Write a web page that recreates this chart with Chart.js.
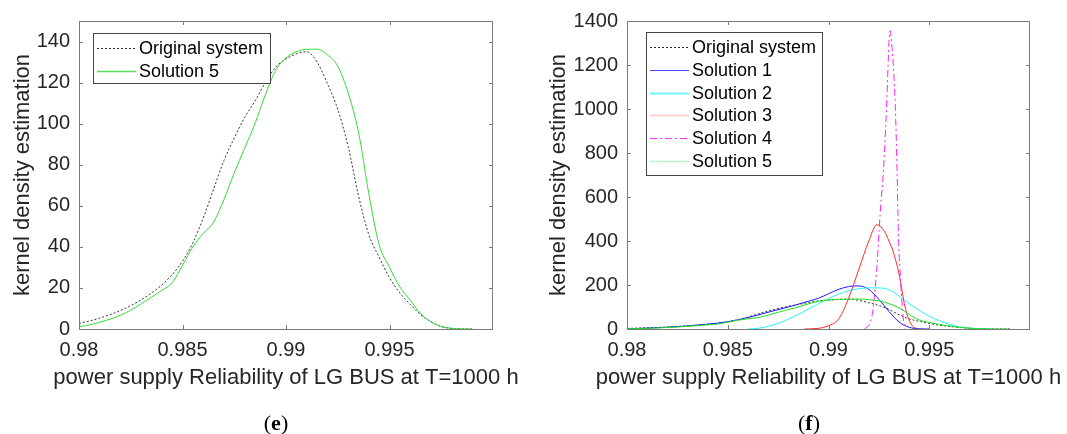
<!DOCTYPE html>
<html>
<head>
  <title>Kernel density of LG BUS reliability</title>
  <script src="https://cdn.jsdelivr.net/npm/chart.js"></script>
  <style>
    body { margin: 0; background: #fff; }
    #page { position: relative; width: 1067px; height: 434px; overflow: hidden; }
    .panel { position: absolute; top: 0; height: 434px; }
    .cap { position: absolute; top: 410px; line-height: 26px; font-family: "Liberation Serif", "DejaVu Serif", serif; font-size: 22px; color: #000; transform: translateX(-50%); }
  </style>
</head>
<body>
<div id="page">
  <div class="panel" style="left:0; width:533px;"><canvas id="chartE"></canvas></div>
  <div class="panel" style="left:533px; width:534px;"><canvas id="chartF"></canvas></div>
  <div class="cap" style="left:276px;">(<b>e</b>)</div>
  <div class="cap" style="left:809px;">(<b>f</b>)</div>
</div>

<script>
  // shared x grid for the original system and solution 5
  const xGrid = [0.9800,0.9805,0.9810,0.9815,0.9820,0.9825,0.9830,0.9835,0.9840,0.9845,
                 0.9850,0.9855,0.9860,0.9865,0.9870,0.9875,0.9880,0.9885,0.9890,0.9895,
                 0.9900,0.9905,0.9910,0.9915,0.9920,0.9925,0.9930,0.9935,0.9940,0.9945,
                 0.9950,0.9955,0.9960,0.9965,0.9970,0.9975,0.9980,0.9985,0.9990];
  const originalKde = [2.7,3.9,5.3,7.0,9.0,11.4,14.2,17.5,21.5,26.5,
                       33,42,54,68,82,93,103,111,120,127.5,
                       131.5,134,135,130,119.5,107,89,65,46,35,
                       25,17.5,12,7,3.5,1.2,0.3,0.05,0];
  const solution5Kde = [1.1,2.0,3.3,4.8,6.7,9.2,12.2,15.5,18.8,22.5,
                        31,40,46.5,52,63,76,88,100,114,126,
                        132,135,136.2,136.3,133.5,128,115,96,66,41,
                        30,20.5,14,7.5,3.5,1.3,0.3,0.05,0];

  const sol1X = [0.980,0.981,0.982,0.983,0.984,0.985,0.986,0.987,0.988,0.9885,0.989,0.9895,
                 0.990,0.9905,0.991,0.9915,0.992,0.9925,0.993,0.9935,0.994,0.9945,0.995];
  const sol1Y = [1,4,8,14,22,33,52,76,100,113,126,140,160,180,193,196,180,135,80,32,8,1,0];

  const sol2X = [0.9860,0.9865,0.9870,0.9875,0.9880,0.9885,0.9890,0.9895,0.9900,0.9905,0.9910,0.9915,
                 0.9920,0.9925,0.9930,0.9935,0.9940,0.9945,0.9950,0.9955,0.9960,0.9965,0.9970,0.9975,0.9980];
  const sol2Y = [0,3,12,25,45,66,90,115,138,158,174,183,187,187,178,150,115,85,58,38,22,10,4,1,0];

  const sol3X = [0.9888,0.9895,0.9900,0.9905,0.9910,0.9915,0.9920,0.9924,0.9928,0.9930,0.9932,0.9935,0.9938,0.9941,0.9944];
  const sol3Y = [0,3,15,45,140,270,400,474,440,400,355,250,100,22,0];

  const sol4X = [0.9918,0.99215,0.9924,0.99256,0.99273,0.99289,0.9930,0.99306,0.99315,0.99331,0.9934,0.99347,0.99359,0.99372,0.9938];
  const sol4Y = [0,55,280,520,728,1027,1300,1356,1280,1027,728,430,205,40,0];

  const xTickValues = [0.98, 0.985, 0.99, 0.995];
  const xTickLabels = ['0.98', '0.985', '0.99', '0.995'];
  const yTicksE = [0, 20, 40, 60, 80, 100, 120, 140];
  const yTicksF = [0, 200, 400, 600, 800, 1000, 1200, 1400];

  const xTitle = 'power supply Reliability of LG BUS at T=1000 h';
  const yTitle = 'kernel density estimation';

  const textColor = '#262626';
  const frameColor = '#7a7a7a';
  const fontFamily = '"Liberation Sans", Arial, sans-serif';

  Chart.defaults.font.family = fontFamily;
  Chart.defaults.color = textColor;

  const pts = (xs, ys) => xs.map((x, i) => ({x: x, y: ys[i]}));

  // MATLAB-like box with inward ticks on all sides, x label and the legend inside the axes
  const matlabBox = {
    id: 'matlabBox',
    afterDraw(chart, args, opts) {
      const {ctx, chartArea: a, scales} = chart;
      ctx.save();
      ctx.strokeStyle = frameColor;
      ctx.lineWidth = 1;
      ctx.setLineDash([]);
      ctx.strokeRect(a.left + 0.5, a.top + 0.5, a.right - a.left - 1, a.bottom - a.top);
      ctx.beginPath();
      scales.x.ticks.forEach(t => {
        const px = Math.round(scales.x.getPixelForValue(t.value)) + 0.5;
        ctx.moveTo(px, a.bottom); ctx.lineTo(px, a.bottom - 4);
        ctx.moveTo(px, a.top); ctx.lineTo(px, a.top + 4);
      });
      scales.y.ticks.forEach(t => {
        const py = Math.round(scales.y.getPixelForValue(t.value)) + 0.5;
        ctx.moveTo(a.left, py); ctx.lineTo(a.left + 4, py);
        ctx.moveTo(a.right, py); ctx.lineTo(a.right - 4, py);
      });
      ctx.stroke();

      // x label (drawn here so it is not squeezed to the axis width)
      ctx.fillStyle = textColor;
      ctx.font = '22px ' + fontFamily;
      ctx.textAlign = 'center';
      ctx.textBaseline = 'middle';
      ctx.fillText(xTitle, (a.left + a.right) / 2, a.bottom + 49);

      // legend
      const b = opts.box;
      const bx = a.left + b.dx, by = a.top + b.dy;
      ctx.fillStyle = '#fff';
      ctx.fillRect(bx, by, b.w, b.h);
      ctx.strokeStyle = '#444';
      ctx.strokeRect(bx + 0.5, by + 0.5, b.w, b.h);
      ctx.font = '18px ' + fontFamily;
      ctx.textAlign = 'left';
      chart.data.datasets.forEach((ds, i) => {
        const y = Math.round(by + 15 + i * b.step) + 0.5;
        ctx.beginPath();
        ctx.strokeStyle = ds.legendColor;
        ctx.lineWidth = ds.legendWidth || 1;
        ctx.setLineDash(ds.borderDash || []);
        ctx.moveTo(bx + 4, y); ctx.lineTo(bx + 43, y);
        ctx.stroke();
        ctx.setLineDash([]);
        ctx.fillStyle = '#000';
        ctx.fillText(ds.label, bx + 46, y + 1);
      });
      ctx.restore();
    }
  };

  function buildOptions(yMax, yTicks, yAxisWidth, rightPad, yTitlePad, box) {
    return {
      responsive: true,
      maintainAspectRatio: false,
      animation: false,
      layout: { padding: { left: 0, top: 17, right: rightPad, bottom: 0 } },
      elements: { point: { radius: 0 }, line: { borderWidth: 1, cubicInterpolationMode: 'monotone' } },
      plugins: { legend: { display: false }, tooltip: { enabled: false }, matlabBox: { box: box } },
      scales: {
        x: {
          type: 'linear', min: 0.98, max: 1.0,
          afterBuildTicks: s => { s.ticks = xTickValues.map(v => ({ value: v })); },
          afterFit: s => { s.height = 105; },
          grid: { display: false, drawTicks: false },
          border: { display: false },
          ticks: { padding: 9, color: textColor, font: { size: 20 }, maxRotation: 0,
                   callback: (v, i) => xTickLabels[i] },
          title: { display: false }
        },
        y: {
          min: 0, max: yMax,
          afterBuildTicks: s => { s.ticks = yTicks.map(v => ({ value: v })); },
          afterFit: s => { s.width = yAxisWidth; },
          grid: { display: false, drawTicks: false },
          border: { display: false },
          ticks: { padding: 9, color: textColor, font: { size: 20 }, callback: v => String(v) },
          title: { display: true, text: yTitle, color: textColor, font: { size: 22 },
                   padding: { top: yTitlePad, bottom: 0 } }
        }
      }
    };
  }

  new Chart(document.getElementById('chartE'), {
    type: 'line',
    data: {
      datasets: [
        { label: 'Original system', data: pts(xGrid, originalKde), borderColor: '#333',
          borderDash: [2, 2], legendColor: '#222', order: 2 },
        { label: 'Solution 5', data: pts(xGrid, solution5Kde), borderColor: '#33dd33',
          legendColor: '#55e055', legendWidth: 1.5, order: 1 }
      ]
    },
    options: buildOptions(150, yTicksE, 79, 40, 10, { dx: 14, dy: 12, w: 177, h: 50, step: 23 }),
    plugins: [matlabBox]
  });

  new Chart(document.getElementById('chartF'), {
    type: 'line',
    data: {
      datasets: [
        { label: 'Original system', data: pts(xGrid, originalKde), borderColor: '#333',
          borderDash: [2, 2], legendColor: '#222', order: 6 },
        { label: 'Solution 1', data: pts(sol1X, sol1Y), borderColor: '#1a1aff',
          legendColor: '#4646ff', order: 5 },
        { label: 'Solution 2', data: pts(sol2X, sol2Y), borderColor: '#22f5f5',
          legendColor: '#6ff8f8', legendWidth: 2, order: 4 },
        { label: 'Solution 3', data: pts(sol3X, sol3Y), borderColor: '#ff2a2a',
          legendColor: '#ffc8c8', legendWidth: 1.5, order: 3 },
        { label: 'Solution 4', data: pts(sol4X, sol4Y), borderColor: '#ff22ff',
          borderDash: [7, 3, 2, 3], legendColor: '#ff33ff', order: 2 },
        { label: 'Solution 5', data: pts(xGrid, solution5Kde), borderColor: '#22dd22',
          legendColor: '#bff3c8', legendWidth: 1.5, order: 1 }
      ]
    },
    options: buildOptions(1400, yTicksF, 94, 37, 13, { dx: 19, dy: 11, w: 176, h: 143, step: 22.8 }),
    plugins: [matlabBox]
  });
</script>
</body>
</html>
